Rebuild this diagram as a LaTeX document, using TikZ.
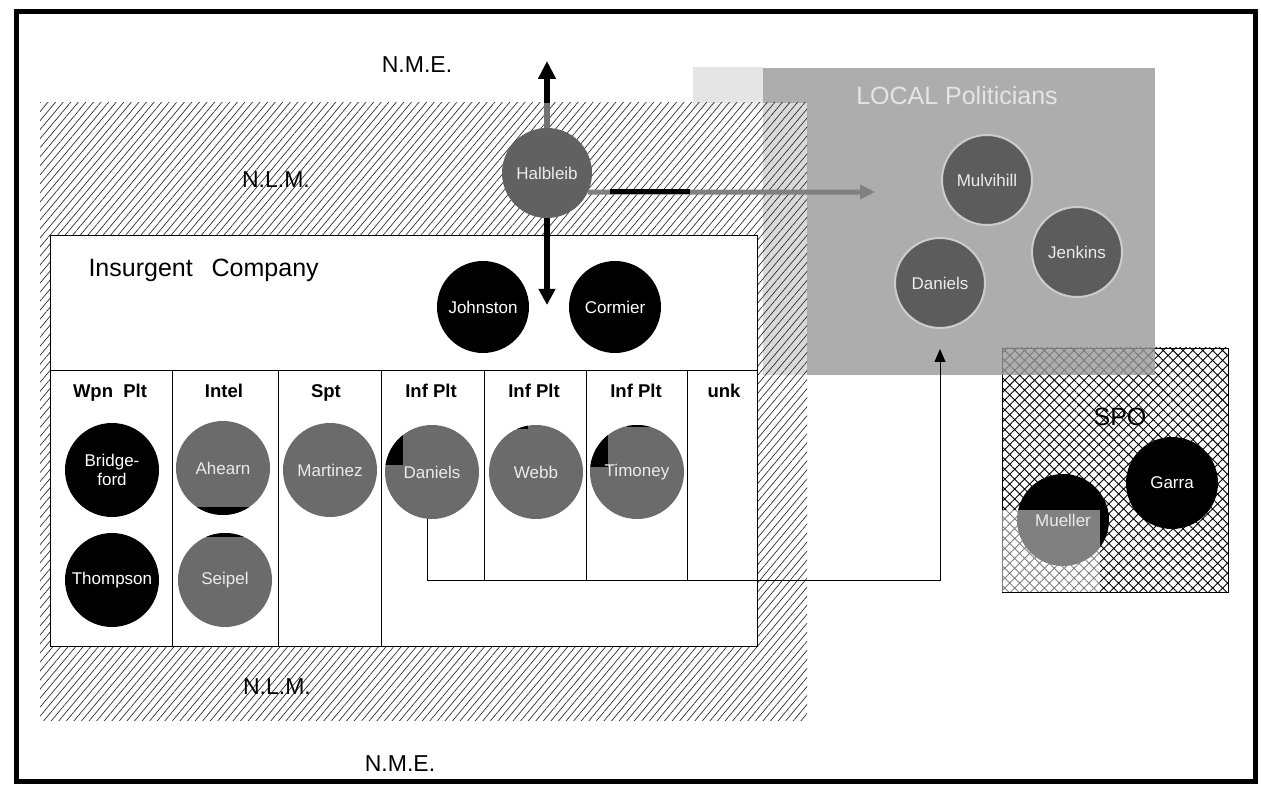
\documentclass[tikz,border=0pt]{standalone}
\usepackage{fontspec}
\setmainfont{Liberation Sans}
\usetikzlibrary{patterns.meta,arrows.meta,calc}
\begin{document}
\begin{tikzpicture}[x=1pt,y=-1pt,
  person/.style={circle, minimum size=94pt, inner sep=0pt, align=center, font=\fontsize{17}{19}\selectfont},
  blackp/.style={person, fill=black, text=white},
  grayp/.style={person, fill=black!58, text=white!92!black},
  textonly/.style={person, text=white!92!black},
  localp/.style={person, fill=black!64, draw=white!80!black, line width=2pt, text=white!92!black, minimum size=90pt},
  hdr/.style={font=\bfseries\fontsize{18.5}{20}\selectfont, anchor=base},
  big/.style={font=\fontsize{23}{26}\selectfont, anchor=base},
  thinline/.style={line width=0.8pt},
]
\useasboundingbox (0,0) rectangle (1261,791);
\fill[white] (0,0) rectangle (1261,791);

% faint speckled background patch next to the LOCAL box
\fill[black!10] (693,67) rectangle (763,110);

% SPO box
\fill[white] (1002,348) rectangle (1228,592);
\path[pattern={Hatch[angle=45,distance=7pt,line width=0.9pt]}, pattern color=black] (1002,348) rectangle (1228,592);
\draw[thinline] (1002,348) rectangle (1228,592);

% LOCAL politicians box
\fill[black!40, fill opacity=0.8] (763,68) rectangle (1155,375);

% N.L.M. hatched area
\fill[white, fill opacity=0.55] (40,103) rectangle (807,720);
\path[pattern={Lines[angle=50,distance=5.8pt,line width=0.65pt]}, pattern color=black!85] (40,103) rectangle (807,720);

% Insurgent company box
\draw[thinline, fill=white] (50,235) rectangle (757,646);
\draw[thinline] (50,370) -- (757,370);
\foreach \xx in {172,278,381} \draw[thinline] (\xx,370) -- (\xx,646);
\foreach \xx in {484,586,687} \draw[thinline] (\xx,370) -- (\xx,580);

% labels
\node[big] (nme1) at (417,73) {N.M.E.};
\node[big] (nlm1) at (276,188) {N.L.M.};
\node[big] (nlm2) at (277,694) {N.L.M.};
\node[big] (nme2) at (400,771) {N.M.E.};
\node[font=\fontsize{25}{28}\selectfont, anchor=base west] (ic) at (85,277) {Insurgent\hspace{12pt} Company};
\node[font=\fontsize{25}{28}\selectfont, anchor=base, text=white!90!black] (lp) at (957,105) {LOCAL Politicians};
\node[font=\fontsize{25}{28}\selectfont, anchor=base] (spo) at (1120,425) {SPO};

% column headers
\node[hdr] (h1) at (110,398) {Wpn\ \ Plt};
\node[hdr] (h2) at (224,398) {Intel};
\node[hdr] (h3) at (326,398) {Spt};
\node[hdr] (h4) at (431,398) {Inf Plt};
\node[hdr] (h5) at (534,398) {Inf Plt};
\node[hdr] (h6) at (636,398) {Inf Plt};
\node[hdr] (h7) at (724,398) {unk};

% leaders
\node[blackp, minimum size=92pt] (johnston) at (483,307) {Johnston};
\node[blackp, minimum size=92pt] (cormier) at (615,307) {Cormier};

% column people
\node[blackp] (bridgeford) at (112,470) {Bridge-\\ford};
\node[blackp] (thompson) at (112,580) {Thompson};

\fill[black!58] (223,468) circle (47);
\begin{scope}\clip (223,468) circle (47); \fill (150,507) rectangle (300,530); \end{scope}
\node[textonly] (ahearn) at (223,468) {Ahearn};

\fill[black!58] (225,580) circle (47);
\begin{scope}\clip (225,580) circle (47); \fill (200,520) rectangle (250,537); \end{scope}
\node[textonly] (seipel) at (225,580) {Seipel};

\node[grayp] (martinez) at (330,470) {Martinez};

\fill[black!58] (432,472) circle (47);
\begin{scope}\clip (432,472) circle (47); \fill (380,420) rectangle (403,465); \end{scope}
\node[textonly] (daniels1) at (432,472) {Daniels};

\fill[black!58] (536,472) circle (47);
\begin{scope}\clip (536,472) circle (47); \fill (515,420) rectangle (528,429); \end{scope}
\node[textonly] (webb) at (536,472) {Webb};

\fill[black!58] (637,472) circle (47);
\begin{scope}\clip (637,472) circle (47); \fill (585,420) rectangle (608,467); \fill (627,420) rectangle (650,427); \end{scope}
\node[textonly] (timoney) at (637,472) {Timoney};

% local politicians
\node[localp] (mulvihill) at (987,180) {Mulvihill};
\node[localp] (jenkins) at (1077,252) {Jenkins};
\node[localp] (daniels2) at (940,283) {Daniels};

% SPO people
\fill (1063,520) circle (46);
\fill[white, fill opacity=0.5] (1002,510) rectangle (1100,592);
\node[textonly, minimum size=92pt] (mueller) at (1063,520) {Mueller};
\node[blackp, minimum size=92pt] (garra) at (1172,483) {Garra};

% Halbleib and arrows
\node[grayp, fill=black!62, minimum size=90pt] (halbleib) at (547,173) {Halbleib};
\draw[line width=6pt, -{Triangle[length=18pt,width=17pt]}] (halbleib.north) -- (547,61);
\draw[line width=6pt, black!55] (halbleib.north) -- ++(0,-25);
\draw[line width=6pt, -{Triangle[length=16pt,width=16pt]}] (halbleib.south) -- (547,305);
\draw[line width=5pt, black!50, -{Triangle[length=15pt,width=14pt]}] (halbleib.-25) -- (875,192);
\draw[line width=5pt] (610,192) -- (690,192);

% connector Daniels -> Daniels
\draw[thinline, -{Triangle[length=13pt,width=11pt]}] ([xshift=-5pt]daniels1.south) -- ++(0,61) -| ([yshift=-20pt]daniels2.south);

% outer frame
\draw[line width=5pt] (16,12) rectangle (1255,781);
\end{tikzpicture}
\end{document}
